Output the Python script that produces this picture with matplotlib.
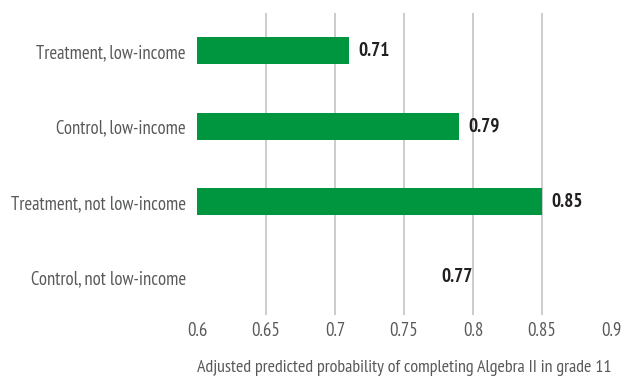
import matplotlib.pyplot as plt
import numpy as np

categories = ["Treatment, low-income", "Control, low-income",
              "Treatment, not low-income", "Control, not low-income"]
values = [0.71, 0.79, 0.85, 0.77]
bar_colors = ["#00963f", "#00963f", "#00963f", "none"]
xticks = [0.6, 0.65, 0.7, 0.75, 0.8, 0.85, 0.9]
xlabel = "Adjusted predicted probability of completing Algebra II in grade 11"

plt.rcParams["font.family"] = ["PT Sans Narrow", "DejaVu Sans"]

fig = plt.figure(figsize=(6.23, 3.82), dpi=100)
ax = fig.add_axes([197 / 623, 67 / 382, 414 / 623, 302 / 382])

y = np.arange(len(categories))
base = 0.6
ax.barh(y, np.array(values) - base, left=base, height=0.36,
        color=bar_colors, zorder=2)
for yi, v in zip(y, values):
    ax.text(v + 0.007, yi, f"{v:.2f}", va="center", ha="left",
            fontsize=13.8, fontweight="bold", color="#231f20")

ax.set_xlim(0.6, 0.9)
ax.set_ylim(3.5, -0.5)
ax.set_xticks(xticks)
ax.set_xticklabels([f"{t:g}" for t in xticks], fontsize=13.5, color="#58595b")
ax.set_yticks(y)
ax.set_yticklabels(categories, fontsize=13.4, color="#58595b")
ax.tick_params(axis="both", length=0)
ax.tick_params(axis="y", pad=8)
ax.tick_params(axis="x", pad=5)

ax.grid(axis="x", color="#c4c4c4", linewidth=1.2, zorder=0)
gl = ax.get_xgridlines()
gl[0].set_visible(False)
gl[-1].set_visible(False)
ax.set_axisbelow(True)

for s in ax.spines.values():
    s.set_visible(False)

ax.set_xlabel(xlabel, fontsize=13, color="#58595b")
ax.xaxis.set_label_coords(0.5, -0.15)

fig.savefig("out.png", dpi=100)
